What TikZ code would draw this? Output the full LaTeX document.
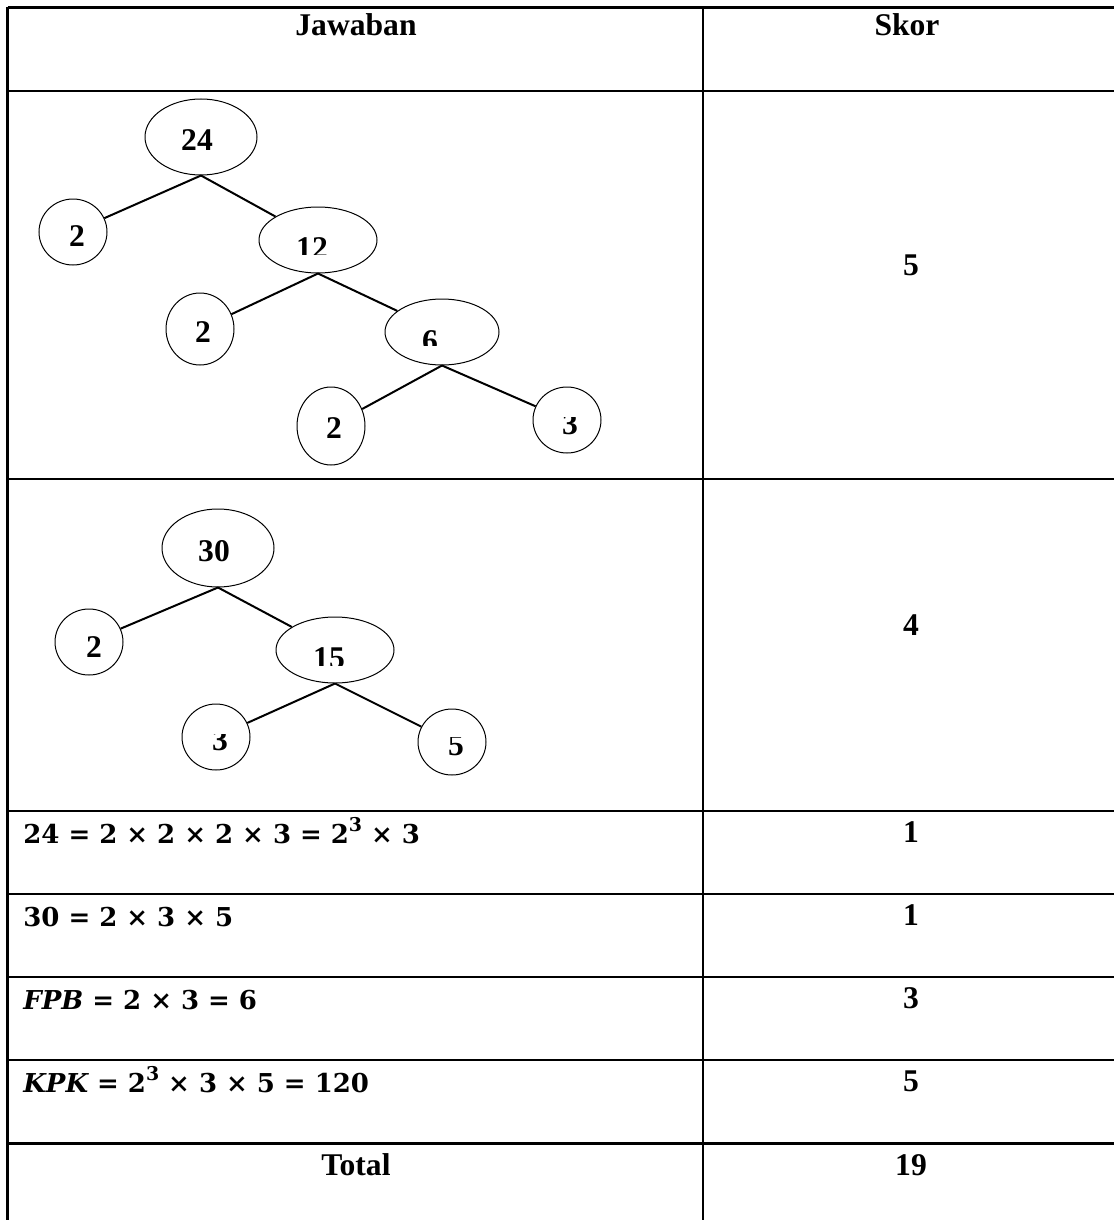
\documentclass[tikz,border=0pt]{standalone}
\usepackage{fontspec}
\setmainfont{Liberation Serif}
\newfontfamily\mathlike{DejaVu Serif}
\usetikzlibrary{shapes.geometric}
\newcommand\opsp[1]{\hspace{4.5pt}#1\hspace{4.5pt}}
\newcommand\supthree{\raisebox{0.45em}{\fontsize{9.5}{9.5}\selectfont 3}}
\begin{document}
\begin{tikzpicture}[x=0.5pt,y=-0.5pt,
  grid/.style={line width=1.1pt},
  fac/.style={ellipse,draw,line width=0.5pt,inner sep=0pt},
  edge/.style={line width=1pt},
  lbl/.style={anchor=base,inner sep=0pt,font=\fontsize{15.8}{18}\selectfont\bfseries},
  eq/.style={anchor=base west,inner sep=0pt,font=\mathlike\fontsize{13}{16}\selectfont\bfseries}]
\useasboundingbox (0,0) rectangle (1114,1220);
% table grid
\foreach \yy in {7.5,91,479,811,894,977,1060,1143.5}
  \draw[grid] (7.5,\yy) -- (1114,\yy);
\draw[grid] (7.5,7.5) -- (7.5,1220);
\draw[grid] (702.7,7.5) -- (702.7,1220);
% header
\node[lbl] (hj) at (356,36) {Jawaban};
\node[lbl] (hs) at (907,36) {Skor};
% tree 1
\node[fac,minimum width=56pt,minimum height=38pt] (r24) at (201,137) {};
\node[fac,minimum width=34pt,minimum height=33pt] (a2) at (73,232) {};
\node[fac,minimum width=59pt,minimum height=33pt] (n12) at (318,240) {};
\node[fac,minimum width=34pt,minimum height=36pt] (b2) at (200,329) {};
\node[fac,minimum width=57pt,minimum height=33pt] (n6) at (442,332) {};
\node[fac,minimum width=34pt,minimum height=39pt] (c2) at (331,426) {};
\node[fac,minimum width=34pt,minimum height=33pt] (d3) at (567,420) {};
\draw[edge] (r24.south) -- (a2);
\draw[edge] (r24.south) -- (n12);
\draw[edge] (n12.south) -- (b2);
\draw[edge] (n12.south) -- (n6);
\draw[edge] (n6.south) -- (c2);
\draw[edge] (n6.south) -- (d3);
\node[lbl] (t24) at (197,150) {24};
\node[lbl] (ta2) at (77,246) {2};
\begin{scope}\clip (280,220) rectangle (350,254);
\node[lbl] (t12) at (312,258) {12};
\end{scope}
\node[lbl] (tb2) at (203,342) {2};
\begin{scope}\clip (400,315) rectangle (460,345);
\node[lbl] (t6) at (430,351) {6};
\end{scope}
\node[lbl] (tc2) at (334,438) {2};
\begin{scope}\clip (545,417) rectangle (595,445);
\node[lbl] (td3) at (570,434) {3};
\end{scope}
% tree 2
\node[fac,minimum width=56pt,minimum height=39pt] (r30) at (218,548) {};
\node[fac,minimum width=34pt,minimum height=33pt] (e2) at (89,642) {};
\node[fac,minimum width=59pt,minimum height=33pt] (n15) at (335,650) {};
\node[fac,minimum width=34pt,minimum height=33pt] (f3) at (216,737) {};
\node[fac,minimum width=34pt,minimum height=33pt] (g5) at (452,742) {};
\draw[edge] (r30.south) -- (e2);
\draw[edge] (r30.south) -- (n15);
\draw[edge] (n15.south) -- (f3);
\draw[edge] (n15.south) -- (g5);
\node[lbl] (t30) at (214,561) {30};
\node[lbl] (te2) at (94,657) {2};
\begin{scope}\clip (295,630) rectangle (365,665);
\node[lbl] (t15) at (329,668) {15};
\end{scope}
\begin{scope}\clip (195,734) rectangle (245,760);
\node[lbl] (tf3) at (220,750) {3};
\end{scope}
\begin{scope}\clip (430,737) rectangle (480,765);
\node[lbl] (tg5) at (456,755) {5};
\end{scope}
% scores
\node[lbl] (s1) at (911,275) {5};
\node[lbl] (s2) at (911,635) {4};
\node[lbl] (s3) at (911,842) {1};
\node[lbl] (s4) at (911,925) {1};
\node[lbl] (s5) at (911,1008) {3};
\node[lbl] (s6) at (911,1091) {5};
\node[lbl] (s7) at (911,1175) {19};
\node[lbl] (tot) at (356,1175) {Total};
% equations
\node[eq] (q1) at (23,843) {24\opsp{=}2\opsp{×}2\opsp{×}2\opsp{×}3\opsp{=}2\supthree\opsp{×}3};
\node[eq] (q2) at (23,926) {30\opsp{=}2\opsp{×}3\opsp{×}5};
\node[eq] (q3) at (23,1009) {{\itshape FPB}\opsp{=}2\opsp{×}3\opsp{=}6};
\node[eq] (q4) at (23,1092) {{\itshape KPK}\opsp{=}2\supthree\opsp{×}3\opsp{×}5\opsp{=}120};
\end{tikzpicture}
\end{document}
